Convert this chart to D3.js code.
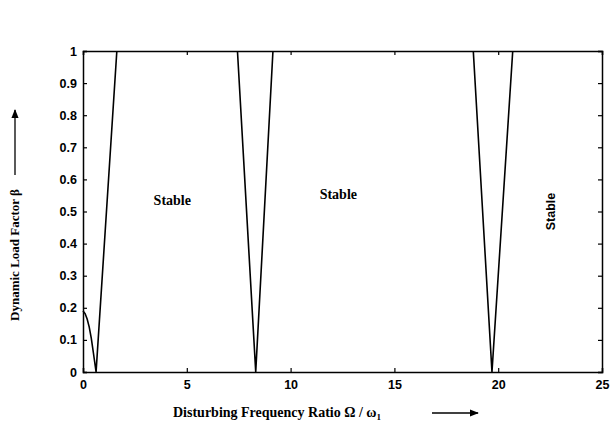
<!doctype html>
<html>
<head>
<meta charset="utf-8">
<style>
body { margin: 0; background-color: white; }
.tick text { font-family: Arial, "Liberation Sans", sans-serif; font-weight: bold; font-size: 12.5px; }
.lbl { font-family: "Liberation Serif", "Times New Roman", serif; font-weight: bold; font-size: 14px; }
</style>
<script src="https://cdnjs.cloudflare.com/ajax/libs/d3/7.8.5/d3.min.js"></script>
</head>
<body>
<div id="chart"></div>
<script>
// frequency ratio (x) and dynamic load factor (y) for each dip of the curve
var dip1X = [0, 0.1, 0.2, 0.3, 0.4, 0.5, 0.63, 1.63];
var dip1Y = [0.19, 0.182, 0.165, 0.14, 0.105, 0.06, 0, 1];
var dip2X = [7.44, 8.32, 9.15];
var dip2Y = [1, 0, 1];
var dip3X = [18.8, 19.7, 20.7];
var dip3Y = [1, 0, 1];

var xTicks = [0, 5, 10, 15, 20, 25];
var yTicks = [0, 0.1, 0.2, 0.3, 0.4, 0.5, 0.6, 0.7, 0.8, 0.9, 1];
var yTickLabels = ["0", "0.1", "0.2", "0.3", "0.4", "0.5", "0.6", "0.7", "0.8", "0.9", "1"];

var stableLabels = ["Stable", "Stable", "Stable"];
var stableX = [4.3, 12.3, 22.75];
var stableY = [0.52, 0.54, 0.5];

var width = 611, height = 426;
var margin = {top: 51, right: 9, bottom: 54, left: 83};
var w = width - margin.left - margin.right;
var h = height - margin.top - margin.bottom;

var svg = d3.select("#chart").append("svg")
	.attr("width", width)
	.attr("height", height);

var defs = svg.append("defs");
defs.append("marker")
	.attr("id", "arr")
	.attr("viewBox", "0 0 10 10")
	.attr("refX", 9).attr("refY", 5)
	.attr("markerWidth", 9).attr("markerHeight", 9)
	.attr("markerUnits", "userSpaceOnUse")
	.attr("orient", "auto")
	.append("path")
	.attr("d", "M0,1 L10,5 L0,9 Z")
	.attr("fill", "black");

var g = svg.append("g").attr("transform", "translate(" + margin.left + "," + margin.top + ")");

var x = d3.scaleLinear().domain([0, 25]).range([0, w]);
var y = d3.scaleLinear().domain([0, 1]).range([h, 0]);

// axes with inward ticks
g.append("g").attr("transform", "translate(0," + h + ")")
	.call(d3.axisBottom(x).tickValues(xTicks).tickSize(-4).tickPadding(8).tickFormat(d3.format("d")));
g.append("g")
	.call(d3.axisLeft(y).tickValues(yTicks).tickSize(-4).tickPadding(6)
		.tickFormat(function(d, i) { return yTickLabels[i]; }));
g.append("g")
	.call(d3.axisTop(x).tickValues(xTicks).tickSize(-4).tickFormat(""));
g.append("g").attr("transform", "translate(" + w + ",0)")
	.call(d3.axisRight(y).tickValues(yTicks).tickSize(-4).tickFormat(""));

g.selectAll(".domain").attr("stroke", "black").attr("stroke-width", 1.5);
g.selectAll(".tick line").attr("stroke", "black").attr("stroke-width", 1.2);

var line = d3.line().x(function(d) { return x(d[0]); }).y(function(d) { return y(d[1]); });

[[dip1X, dip1Y], [dip2X, dip2Y], [dip3X, dip3Y]].forEach(function(s) {
	var pts = s[0].map(function(v, i) { return [v, s[1][i]]; });
	g.append("path")
		.datum(pts)
		.attr("d", line)
		.attr("fill", "none")
		.attr("stroke", "black")
		.attr("stroke-width", 1.6)
		.attr("stroke-linejoin", "miter");
});

// region labels
stableLabels.forEach(function(t, i) {
	if (i < 2) {
		g.append("text").attr("class", "lbl")
			.attr("x", x(stableX[i])).attr("y", y(stableY[i]))
			.attr("text-anchor", "middle")
			.text(t);
	} else {
		g.append("text")
			.attr("transform", "translate(" + x(stableX[i]) + "," + y(stableY[i]) + ") rotate(-90)")
			.attr("text-anchor", "middle")
			.attr("font-family", "Arial, 'Liberation Sans', sans-serif")
			.attr("font-weight", "bold")
			.attr("font-size", 12.5)
			.text(t);
	}
});

// axis titles with arrows
svg.append("text").attr("class", "lbl")
	.attr("x", 173).attr("y", 417)
	.text("Disturbing Frequency Ratio \u03A9 / \u03C9")
	.append("tspan").attr("font-size", 9).attr("dy", 3).text("1");
svg.append("line")
	.attr("x1", 432).attr("y1", 413).attr("x2", 478).attr("y2", 413)
	.attr("stroke", "black").attr("stroke-width", 1.3)
	.attr("marker-end", "url(#arr)");

svg.append("text").attr("class", "lbl")
	.attr("font-size", 13)
	.attr("transform", "translate(19,255) rotate(-90)")
	.attr("text-anchor", "middle")
	.style("font-size", "13px")
	.text("Dynamic Load Factor  \u03B2");
svg.append("line")
	.attr("x1", 15).attr("y1", 175).attr("x2", 15).attr("y2", 110)
	.attr("stroke", "black").attr("stroke-width", 1.3)
	.attr("marker-end", "url(#arr)");
</script>
</body>
</html>
